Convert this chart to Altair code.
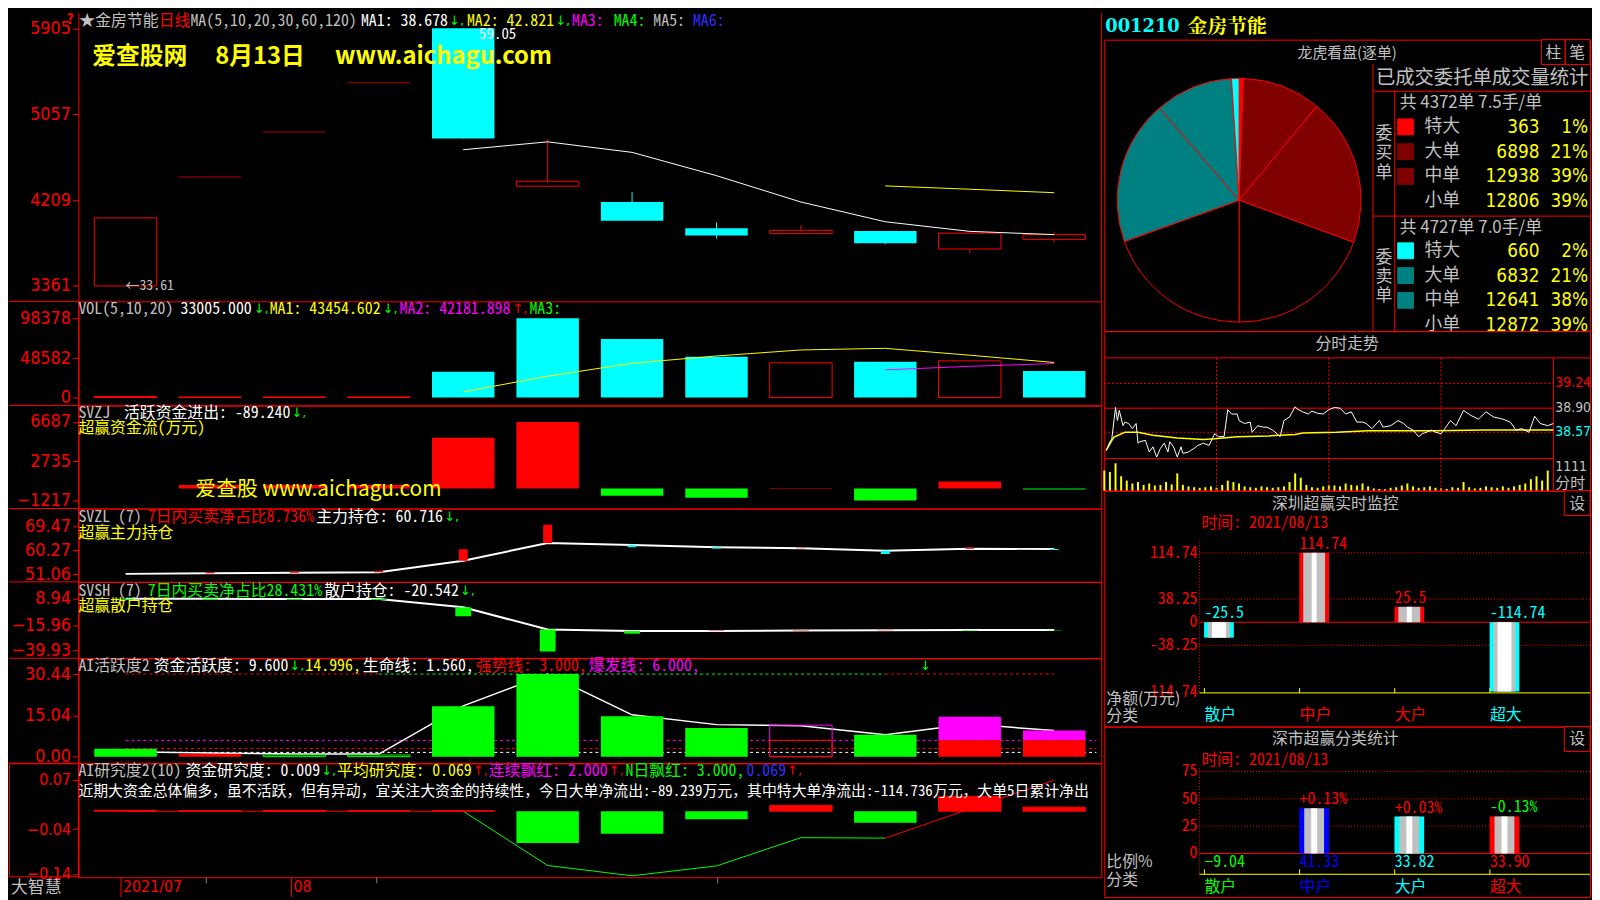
import altair as alt
import pandas as pd

# ---------------- colours / fonts ----------------
RED = "#FF0000"; CYAN = "#00FFFF"; YEL = "#FFFF00"; GRN = "#00FF00"; MAG = "#FF00FF"
WHT = "#FFFFFF"; GRY = "#C0C0C0"; BLU = "#0000FF"; BLU2 = "#3030FF"; DRED = "#800000"
TEAL = "#008080"; BLK = "#000000"; DGRY = "#808080"
FONT_MONO = "Noto Sans Mono CJK SC, Noto Sans CJK SC, monospace"
FONT_CJK = "Noto Sans CJK SC, sans-serif"
FONT_AX = "Liberation Sans Narrow, DejaVu Sans Condensed, Liberation Sans, sans-serif"
FONT_ARW = "DejaVu Sans, sans-serif"
FONT_SERIF = "DejaVu Serif, Liberation Serif, serif"
FONT_SERIF_CJK = "Noto Serif CJK SC, Noto Sans CJK SC, serif"

# ---------------- data ----------------
idx = list(range(12))
opens = [33.61, 44.36, 48.80, 53.68, 59.05, 43.46, 41.90, 39.32, 38.78, 39.04, 37.26, 38.21]
closes = [40.33, 44.36, 48.80, 53.68, 48.16, 43.95, 40.06, 38.59, 39.10, 37.83, 38.82, 38.68]
highs = [40.33, 44.36, 48.80, 53.68, 59.05, 48.13, 42.88, 39.90, 39.61, 39.04, 38.82, 38.91]
lows = [33.61, 44.36, 48.80, 53.68, 48.16, 43.40, 40.06, 38.30, 38.78, 37.73, 36.87, 37.93]
candle_kind = ["up", "flat", "flat", "flat", "down", "up", "down", "down", "up", "down", "up", "up"]
ma1 = [47.06, 47.84, 46.80, 44.50, 41.90, 39.95, 39.00, 38.68]
ma2 = [43.49, 43.16, 42.82]

vol = [1300, 700, 700, 700, 31973, 98378, 72553, 50417, 43040, 44270, 45500, 33005]
vol_kind = ["flat", "flat", "flat", "flat", "down", "down", "down", "down", "up", "down", "up", "down"]
vol_ma1 = [7000, 26400, 42500, 51500, 59000, 61000, 52500, 43455]
vol_ma2 = [34300, 38700, 42182]

zj = [0, 350, 350, 350, 5090, 6687, -720, -920, 60, -1217, 700, -89.24]

zl = [51.2, 51.4, 51.6, 51.8, 56.2, 63.0, 62.2, 61.4, 61.0, 60.0, 60.8, 60.716]
zl_d = [0.0, 0.5, 0.5, 0.5, 4.4, 7.0, -0.8, -0.5, 0.2, -1.2, 0.5, -0.4]

sh = [9.2, 9.1, 9.0, 9.0, 1.0, -20.1, -21.6, -21.6, -21.0, -20.8, -20.6, -20.542]
sh_d = [-1.0, -1.0, -1.0, -1.0, -8.5, -21.0, -2.5, 0.5, 0.4, 0.4, -0.5, -0.4]

act = [2.93, 1.1, 0.6, 0.6, 18.6, 30.44, 14.9, 10.6, 11.6, 8.07, 14.67, 9.6]
act_style = ["g", "r", "gh", "gh", "g", "g", "g", "g", "mrh", "g", "mr", "mr"]
act_line = [1.8, 1.3, 1.0, 0.95, 18.7, 30.44, 15.4, 11.8, 11.4, 8.1, 12.0, 9.6]

yj = [0.002, 0.001, 0.002, 0.001, 0.001, -0.071, -0.050, -0.018, 0.013, -0.026, 0.033, 0.009]
yj_line = [0, 0, 0, 0, 0, -0.121, -0.144, -0.122, -0.059, -0.060, 0.005, 0.069]

buy_labels = ["特大", "大单", "中单", "小单"]
buy_vals = [363, 6898, 12938, 12806]
buy_pct = ["1%", "21%", "39%", "39%"]
sell_vals = [660, 6832, 12641, 12872]
sell_pct = ["2%", "21%", "38%", "39%"]

fs_t = [1, 3, 4, 6, 7, 8, 10, 11, 13, 15, 17, 18, 19, 22, 24, 26, 28, 30, 32, 34,
        35, 37, 39, 41, 42, 45, 48, 50, 53, 56, 59, 61, 64, 66, 68, 71, 72, 75, 78, 79,
        82, 85, 87, 90, 94, 96, 99, 102, 103, 106, 109, 111, 114, 117, 120, 123, 126, 129, 132, 135,
        138, 140, 143, 147, 149, 153, 157, 160, 162, 165, 168, 170, 175, 177, 180, 182, 185, 188, 192, 196,
        200, 204, 208, 213, 217, 220, 223, 227, 230, 233, 237, 240]
fs_p = [38.32, 38.44, 38.48, 38.91, 38.73, 38.87, 38.66, 38.71, 38.69, 38.62,
        38.69, 38.42, 38.44, 38.46, 38.30, 38.37, 38.23, 38.35, 38.42, 38.30,
        38.44, 38.37, 38.23, 38.37, 38.28, 38.30, 38.35, 38.39, 38.42, 38.39,
        38.55, 38.51, 38.51, 38.88, 38.82, 38.82, 38.73, 38.69, 38.71, 38.57,
        38.66, 38.64, 38.64, 38.60, 38.51, 38.73, 38.78, 38.92, 38.89, 38.85,
        38.82, 38.86, 38.83, 38.82, 38.88, 38.91, 38.90, 38.82, 38.85, 38.71,
        38.71, 38.69, 38.62, 38.73, 38.64, 38.66, 38.73, 38.69, 38.64, 38.60,
        38.51, 38.55, 38.60, 38.57, 38.55, 38.62, 38.73, 38.66, 38.87, 38.80,
        38.75, 38.85, 38.78, 38.75, 38.71, 38.60, 38.62, 38.57, 38.79, 38.69,
        38.66, 38.69]
fs_avg_t = [1, 5, 11, 18, 26, 39, 53, 59, 71, 88, 102, 106, 124, 141, 159, 177, 203, 221, 240]
fs_avg = [38.32, 38.50, 38.57, 38.57, 38.53, 38.49, 38.47, 38.48, 38.51, 38.52,
          38.54, 38.56, 38.57, 38.59, 38.59, 38.59, 38.60, 38.60, 38.60]
fs_vol_t = list(range(0, 240, 3))
fs_vol = [700, 650, 950, 500, 350, 250, 300, 200, 250, 180,
          200, 300, 220, 600, 200, 150, 120, 100, 120, 150,
          100, 200, 350, 300, 250, 150, 120, 100, 150, 120,
          100, 120, 150, 300, 600, 450, 200, 120, 100, 150,
          200, 180, 150, 250, 200, 180, 250, 150, 80, 60,
          50, 100, 120, 180, 250, 150, 100, 120, 150, 100,
          80, 60, 120, 100, 300, 120, 80, 100, 150, 120,
          100, 150, 100, 150, 200, 250, 400, 500, 350, 700]

sz_cats = ["散户", "中户", "大户", "超大"]
sz_net = [-25.5, 114.74, 25.5, -114.74]
sz_lab = ["-25.5", "114.74", "25.5", "-114.74"]
sz_col = [CYAN, RED, RED, CYAN]
sz_ticks = [114.74, 38.25, 0, -38.25, -114.74]
sz_tick_lab = ["114.74", "38.25", "0", "-38.25", "-114.74"]

ss_ratio = [-9.04, 41.33, 33.82, 33.90]
ss_chg = ["", "+0.13%", "+0.03%", "-0.13%"]
ss_chg_col = [GRN, RED, RED, GRN]
ss_col = [GRN, BLU, CYAN, RED]
ss_ticks = [75, 50, 25, 0]

# ---------------- helpers ----------------
ONE = pd.DataFrame({"k": [0]})
AX = 70
LW = 1032
RW = 490


def T(s, x, y, color=GRY, size=16, font=FONT_MONO, align="left", weight="normal", **kw):
    return alt.Chart(ONE).mark_text(text=s, color=color, fontSize=size, font=font, align=align,
                                    baseline="middle", fontWeight=weight, **kw).encode(
        x=alt.value(x), y=alt.value(y))


def A(s, x, y, color=GRN):
    """an arrow + comma segment of a header line"""
    return T(s, x, y, color, 13, FONT_ARW)


def R(x, y, x2=None, y2=None, color=RED, dash=None, width=1):
    enc = {"x": alt.value(x), "y": alt.value(y)}
    if x2 is not None:
        enc["x2"] = alt.value(x2)
    if y2 is not None:
        enc["y2"] = alt.value(y2)
    props = {"color": color, "strokeWidth": width}
    if dash:
        props["strokeDash"] = dash
    return alt.Chart(ONE).mark_rule(**props).encode(**enc)


def BOX(x, y, x2, y2, stroke=RED, fill=BLK):
    return alt.Chart(ONE).mark_rect(fill=fill, stroke=stroke, strokeWidth=1).encode(
        x=alt.value(x), x2=alt.value(x2), y=alt.value(y), y2=alt.value(y2))


XS_L = alt.Scale(domain=[-0.5, 11.5], nice=False, zero=False)


def XI(f="i"):
    return alt.X(f"{f}:Q", scale=XS_L, axis=None)


def ymaker(domain, vals, fmt=None, expr=None, lsize=18):
    sc = alt.Scale(domain=domain, nice=False, zero=False)
    kw = dict(values=vals, title=None, grid=False, domainColor=RED, tickColor=RED, labelColor=RED,
              labelFont=FONT_AX, labelFontSize=lsize, tickSize=6, labelPadding=2,
              minExtent=AX, maxExtent=AX, labelFlush=False, labelOverlap=False)
    if fmt:
        kw["format"] = fmt
    if expr:
        kw["labelExpr"] = expr
    ax = alt.Axis(**kw)

    def Y(f):
        return alt.Y(f"{f}:Q", scale=sc, axis=ax)
    return Y


def sep():
    return R(-AX, 0, x2=0)


# ---------------- main candle panel ----------------
Ym = ymaker([32.09, 60.57], [33.61, 42.09, 50.57, 59.05],
            expr="replace(format(datum.value, '.2f'), '.', '')")
cdf = pd.DataFrame({"i": idx, "o": opens, "c": closes, "h": highs, "l": lows, "k": candle_kind})
cb = alt.Chart(cdf)
main_layers = [
    cb.transform_filter("datum.k == 'up'").mark_rule(color=RED).encode(x=XI(), y=Ym("l"), y2="h:Q"),
    cb.transform_filter("datum.k == 'down'").mark_rule(color=CYAN).encode(x=XI(), y=Ym("l"), y2="h:Q"),
    cb.transform_filter("datum.k == 'up'").mark_bar(size=63, fill=BLK, stroke=RED, strokeWidth=1).encode(
        x=XI(), y=Ym("o"), y2="c:Q"),
    cb.transform_filter("datum.k == 'down'").mark_bar(size=63, color=CYAN).encode(x=XI(), y=Ym("o"), y2="c:Q"),
    cb.transform_filter("datum.k == 'flat'").mark_tick(orient="horizontal", size=63, thickness=1, color=RED).encode(
        x=XI(), y=Ym("c")),
    alt.Chart(pd.DataFrame({"i": idx[4:], "v": ma1})).mark_line(color=WHT, strokeWidth=1).encode(x=XI(), y=Ym("v")),
    alt.Chart(pd.DataFrame({"i": idx[9:], "v": ma2})).mark_line(color=YEL, strokeWidth=1).encode(x=XI(), y=Ym("v")),
    alt.Chart(pd.DataFrame({"i": [0], "v": [lows[0]]})).mark_text(
        text="←33.61", align="left", baseline="middle", color=GRY, font=FONT_MONO, fontSize=14).encode(
        x=XI(), y=Ym("v")),
    alt.Chart(pd.DataFrame({"i": [4], "v": [highs[4]]})).mark_text(
        text="59.05", align="left", baseline="middle", color=WHT, font=FONT_MONO, fontSize=15, dx=16, dy=6).encode(
        x=XI(), y=Ym("v")),
    R(LW, 0, y2=291),
    T("?", -12, 7, RED, 14, FONT_CJK, weight="bold"),
    T("★金房节能", 1, 8, GRY), T("日线", 81, 8, RED), T("MA(5,10,20,30,60,120)", 113, 8, GRY),
    T("MA1: 38.678", 285, 8, WHT), A("↓,", 374, 8),
    T("MA2: 42.821", 392, 8, YEL), A("↓,", 481, 8),
    T("MA3:", 498, 8, MAG), T("MA4:", 540, 8, GRN), T("MA5:", 580, 8, GRY), T("MA6:", 620, 8, BLU2),
    T("爱查股网", 14, 45, YEL, 24, FONT_CJK, weight="bold"),
    T("8月13日", 138, 45, YEL, 24, FONT_CJK, weight="bold"),
    T("www.aichagu.com", 259, 45, YEL, 24, FONT_CJK, weight="bold"),
]
main = alt.layer(*main_layers).properties(width=LW, height=291,
                                          view=alt.ViewBackground(stroke="transparent"))

# ---------------- VOL panel ----------------
Yv = ymaker([-9838, 119283], [0, 48582, 98378], fmt="d")
vdf = pd.DataFrame({"i": idx, "v": vol, "z": 0, "k": vol_kind})
vb = alt.Chart(vdf)
vol_layers = [
    vb.transform_filter("datum.k == 'flat'").mark_bar(size=63, color=RED, stroke=RED, strokeWidth=1).encode(
        x=XI(), y=Yv("v"), y2="z:Q"),
    vb.transform_filter("datum.k == 'up'").mark_bar(size=63, fill=BLK, stroke=RED, strokeWidth=1).encode(
        x=XI(), y=Yv("v"), y2="z:Q"),
    vb.transform_filter("datum.k == 'down'").mark_bar(size=63, color=CYAN).encode(x=XI(), y=Yv("v"), y2="z:Q"),
    alt.Chart(pd.DataFrame({"i": idx[4:], "v": vol_ma1})).mark_line(color=YEL, strokeWidth=1).encode(x=XI(), y=Yv("v")),
    alt.Chart(pd.DataFrame({"i": idx[9:], "v": vol_ma2})).mark_line(color=MAG, strokeWidth=1).encode(x=XI(), y=Yv("v")),
    T("VOL(5,10,20)", 0, 8, GRY),
    T("33005.000", 103, 8, WHT), A("↓,", 177, 8),
    T("MA1: 43454.602", 193, 8, YEL), A("↓,", 307, 8),
    T("MA2: 42181.898", 324, 8, MAG), A("↑,", 438, 8, RED),
    T("MA3:", 455, 8, GRN),
    sep(),
]
volp = alt.layer(*vol_layers).properties(width=LW, height=105)

# ---------------- SVZJ panel ----------------
Yz = ymaker([-2014, 8351], [-1217, 2735, 6687], fmt="d")
zdf = pd.DataFrame({"i": idx, "v": zj, "z": 0})
zb = alt.Chart(zdf)
zj_layers = [
    zb.transform_filter("datum.v >= 0").mark_bar(size=63, color=RED).encode(x=XI(), y=Yz("v"), y2="z:Q"),
    zb.transform_filter("datum.v < 0").mark_bar(size=63, color=GRN).encode(x=XI(), y=Yz("v"), y2="z:Q"),
    T("SVZJ", 0, 8, GRY), T("活跃资金进出: -89.240", 46, 8, WHT), A("↓,", 215, 8),
    T("超赢资金流(万元)", 0, 23, YEL),
    T("爱查股 www.aichagu.com", 118, 85, YEL, 21, FONT_CJK),
    sep(),
]
zjp = alt.layer(*zj_layers).properties(width=LW, height=104)

# ---------------- SVZL panel ----------------
Yl = ymaker([48.14, 76.18], [51.06, 60.27, 69.47], fmt=".2f")
ldf = pd.DataFrame({"i": idx, "v": zl, "e": [a + b for a, b in zip(zl, zl_d)], "d": zl_d})
lb = alt.Chart(ldf)
zl_layers = [
    lb.mark_line(color=WHT, strokeWidth=2).encode(x=XI(), y=Yl("v")),
    lb.transform_filter("datum.d > 0").mark_bar(size=9, color=RED).encode(x=XI(), y=Yl("v"), y2="e:Q"),
    lb.transform_filter("datum.d < 0").mark_bar(size=9, color=CYAN).encode(x=XI(), y=Yl("v"), y2="e:Q"),
    T("SVZL (7)", 0, 9, GRY), T("7日内买卖净占比8.736%", 70, 9, RED),
    T("主力持仓: 60.716", 240, 9, WHT), A("↓,", 369, 9),
    T("超赢主力持仓", 0, 25, YEL),
    sep(),
]
zlp = alt.layer(*zl_layers).properties(width=LW, height=74)

# ---------------- SVSH panel ----------------
Ys = ymaker([-47.49, 25.29], [-39.93, -15.96, 8.94], fmt=".2f")
sdf = pd.DataFrame({"i": idx, "v": sh, "e": [a + b for a, b in zip(sh, sh_d)], "d": sh_d})
sb = alt.Chart(sdf)
sh_layers = [
    sb.mark_line(color=WHT, strokeWidth=2).encode(x=XI(), y=Ys("v")),
    sb.transform_filter("datum.d > 0").mark_bar(size=16, color=RED).encode(x=XI(), y=Ys("v"), y2="e:Q"),
    sb.transform_filter("datum.d < 0").mark_bar(size=16, color=GRN).encode(x=XI(), y=Ys("v"), y2="e:Q"),
    T("SVSH (7)", 0, 9, GRY), T("7日内买卖净占比28.431%", 70, 9, GRN),
    T("散户持仓: -20.542", 248, 9, WHT), A("↓,", 385, 9),
    T("超赢散户持仓", 0, 24, YEL),
    sep(),
]
shp = alt.layer(*sh_layers).properties(width=LW, height=77)

# ---------------- AI活跃度 panel ----------------
Ya = ymaker([-2.45, 36.29], [0, 15.04, 30.44], fmt=".2f")
adf = pd.DataFrame({"i": idx, "v": act, "s": act_style, "z": 0, "six": 6, "w": act_line})
ab = alt.Chart(adf)
lv = pd.DataFrame({"a": [0, 0, 0, 0, 3, 9], "b": [11.5, 11.5, 11.5, 3, 9, 11],
                   "v": [6, 3, 1.56, 30.44, 30.44, 30.44],
                   "col": [MAG, RED, WHT, RED, GRN, RED]})
act_layers = [
    alt.Chart(lv).mark_rule(strokeDash=[3, 3], strokeWidth=1).encode(
        x=XI("a"), x2="b:Q", y=Ya("v"), color=alt.Color("col:N", scale=None)),
    ab.mark_line(color=WHT, strokeWidth=1.5).encode(x=XI(), y=Ya("w")),
    ab.transform_filter("datum.s == 'g'").mark_bar(size=63, color=GRN).encode(x=XI(), y=Ya("v"), y2="z:Q"),
    ab.transform_filter("datum.s == 'r'").mark_bar(size=63, color=RED).encode(x=XI(), y=Ya("v"), y2="z:Q"),
    ab.transform_filter("datum.s == 'gh'").mark_bar(size=63, fill="transparent", stroke=GRN, strokeWidth=1).encode(
        x=XI(), y=Ya("v"), y2="z:Q"),
    ab.transform_filter("datum.s == 'mr'").mark_bar(size=63, color=MAG).encode(x=XI(), y=Ya("v"), y2="six:Q"),
    ab.transform_filter("datum.s == 'mr'").mark_bar(size=63, color=RED).encode(x=XI(), y=Ya("six"), y2="z:Q"),
    ab.transform_filter("datum.s == 'mrh'").mark_bar(size=63, fill="transparent", stroke=MAG, strokeWidth=1).encode(
        x=XI(), y=Ya("v"), y2="z:Q"),
    ab.transform_filter("datum.s == 'mrh'").mark_bar(size=63, fill="transparent", stroke=RED, strokeWidth=1).encode(
        x=XI(), y=Ya("six"), y2="z:Q"),
    T("AI活跃度2", 0, 8, GRY), T("资金活跃度: 9.600", 76, 8, WHT), A("↓,", 213, 8),
    T("14.996,", 229, 8, YEL), T("生命线: 1.560,", 287, 8, WHT),
    T("强势线: 3.000,", 401, 8, RED), T("爆发线: 6.000,", 515, 8, MAG),
    A("↓", 849, 8),
    sep(),
]
actp = alt.layer(*act_layers).properties(width=LW, height=106)

# ---------------- AI研究度 panel ----------------
Yj = ymaker([-0.1473, 0.1069], [-0.14, -0.04, 0.07], fmt=".2f", lsize=16)
jdf = pd.DataFrame({"i": idx, "v": yj, "z": 0})
jb = alt.Chart(jdf)
jl = pd.DataFrame({"i": idx, "v": yj_line})
yj_layers = [
    alt.Chart(jl).transform_filter("datum.i <= 4").mark_line(color=RED, strokeWidth=1).encode(x=XI(), y=Yj("v")),
    alt.Chart(jl).transform_filter("datum.i >= 4 && datum.i <= 9").mark_line(color=GRN, strokeWidth=1).encode(
        x=XI(), y=Yj("v")),
    alt.Chart(jl).transform_filter("datum.i >= 9").mark_line(color=RED, strokeWidth=1).encode(x=XI(), y=Yj("v")),
    jb.transform_filter("datum.v >= 0").mark_bar(size=63, color=RED, stroke=RED, strokeWidth=1).encode(
        x=XI(), y=Yj("v"), y2="z:Q"),
    jb.transform_filter("datum.v < 0").mark_bar(size=63, color=GRN).encode(x=XI(), y=Yj("v"), y2="z:Q"),
    BOX(-69.5, 0.5, 0, 114.5, RED, "transparent"),
    T("AI研究度2(10)", 0, 8, GRY), T("资金研究度: 0.009", 108, 8, WHT), A("↓,", 245, 8),
    T("平均研究度: 0.069", 261, 8, YEL), A("↑,", 398, 8, RED),
    T("连续飘红: 2.000", 414, 8, MAG), A("↑,", 535, 8, RED),
    T("N日飘红: 3.000,", 552, 8, GRN), T("0.069", 674, 8, BLU2), A("↑,", 715, 8, RED),
    T("近期大资金总体偏多，虽不活跃，但有异动，宜关注大资金的持续性，今日大单净流出:-89.239万元，"
      "其中特大单净流出:-114.736万元，大单5日累计净出", 0, 28, WHT, 15, limit=1030),
    sep(),
]
yjp = alt.layer(*yj_layers).properties(width=LW, height=115)

# ---------------- date strip ----------------
strip_y = alt.Y("y0:Q", scale=alt.Scale(domain=[0, 1]),
                axis=alt.Axis(labels=False, ticks=False, domain=False, grid=False, title=None,
                              minExtent=AX, maxExtent=AX))
sdates = pd.DataFrame({"i": [0, 2], "y0": [0, 0], "y1": [1, 1]})
sgray = pd.DataFrame({"i": [1, 3, 7], "y0": [0.7, 0.7, 0.7], "y1": [1, 1, 1]})
strip_layers = [
    alt.Chart(sgray).mark_rule(color=DGRY).encode(x=XI(), y=strip_y, y2="y1:Q"),
    alt.Chart(sdates).mark_rule(color=RED).encode(x=XI(), y=strip_y, y2="y1:Q"),
    alt.Chart(pd.DataFrame({"i": [0], "y0": [0.5]})).mark_text(
        text="2021/07", align="left", baseline="middle", color=RED, font=FONT_AX, fontSize=16, dx=2).encode(
        x=XI(), y=strip_y),
    alt.Chart(pd.DataFrame({"i": [2], "y0": [0.5]})).mark_text(
        text="08", align="left", baseline="middle", color=RED, font=FONT_AX, fontSize=16, dx=2).encode(
        x=XI(), y=strip_y),
    T("大智慧", -68, 11, GRY, 17, FONT_CJK),
]
strip = alt.layer(*strip_layers).properties(width=LW, height=20,
                                            view=alt.ViewBackground(stroke="transparent"))

left = alt.vconcat(main, volp, zjp, zlp, shp, actp, yjp, strip, spacing=0, bounds="flush")

# ---------------- right: header ----------------
hdr = alt.layer(
    T("001210", 1, 14, CYAN, 18, FONT_SERIF, weight="bold"),
    T("金房节能", 84, 14, YEL, 20, FONT_SERIF_CJK, weight="bold"),
).properties(width=RW, height=27, view=alt.ViewBackground(stroke="transparent"))

# ---------------- right: pie + table ----------------
pie_keys = ["买特大", "买大单", "买中单", "买小单", "卖小单", "卖中单", "卖大单", "卖特大"]
pie_vals = buy_vals + sell_vals[::-1]
pie_cols = [RED, DRED, DRED, BLK, BLK, TEAL, TEAL, CYAN]
pie_df = pd.DataFrame({"k": pie_keys, "v": pie_vals, "o": list(range(8))})
pie_layers = [
    alt.Chart(pie_df).mark_arc(radius=123, stroke=RED, strokeWidth=1).encode(
        theta=alt.Theta("v:Q", stack=True), order=alt.Order("o:Q"),
        color=alt.Color("k:N", scale=alt.Scale(domain=pie_keys, range=pie_cols), legend=None),
        x=alt.value(136), y=alt.value(162)),
    T("龙虎看盘(逐单)", 245, 13, GRY, 15, FONT_CJK, align="center"),
    BOX(441, 0, 465, 25), BOX(465, 0, 490, 25),
    T("柱", 453, 13, GRY, 16, FONT_CJK, align="center"), T("笔", 477, 13, GRY, 16, FONT_CJK, align="center"),
    R(271, 25, y2=294), R(271, 52, x2=490), R(293, 52, y2=294), R(271, 178, x2=490),
    T("已成交委托单成交量统计", 274, 39, GRY, 19.5, FONT_CJK, limit=215),
    T("共 4372单 7.5手/单", 298, 64, GRY, 17, FONT_CJK),
    T("共 4727单 7.0手/单", 298, 190, GRY, 17, FONT_CJK),
]
for ch, yy in zip("委买单", [95, 114, 135]):
    pie_layers.append(T(ch, 282, yy, GRY, 17, FONT_CJK, align="center"))
for ch, yy in zip("委卖单", [220, 239, 259]):
    pie_layers.append(T(ch, 282, yy, GRY, 17, FONT_CJK, align="center"))
buy_sw = [RED, DRED, DRED, None]
sell_sw = [CYAN, TEAL, TEAL, None]
for rows, vals, pcts, sws in [([88, 113, 138, 163], buy_vals, buy_pct, buy_sw),
                              ([213, 238, 263, 288], sell_vals, sell_pct, sell_sw)]:
    for yy, lab, v, p, sw in zip(rows, buy_labels, vals, pcts, sws):
        if sw:
            pie_layers.append(BOX(296, yy - 8, 312, yy + 8, stroke=sw, fill=sw))
        pie_layers.append(T(lab, 323, yy, GRY, 18, FONT_CJK))
        pie_layers.append(T(str(v), 439, yy, YEL, 19, FONT_AX, align="right"))
        pie_layers.append(T(p, 488, yy, YEL, 19, FONT_AX, align="right"))
piep = alt.layer(*pie_layers).properties(width=RW, height=294)

# ---------------- right: intraday ----------------
XS_F = alt.Scale(domain=[0, 259.6], nice=False, zero=False)
YS_P = alt.Scale(domain=[37.769, 39.957], nice=False, zero=False)
YS_V = alt.Scale(domain=[0, 5538], nice=False, zero=False)
XF = lambda f: alt.X(f"{f}:Q", scale=XS_F, axis=None)
YP = lambda f: alt.Y(f"{f}:Q", scale=YS_P, axis=None)
fs_refs = pd.DataFrame({"a": [0, 0, 0], "b": [240, 240, 240], "p": [39.24, 38.90, 38.57],
                        "dash": ["d", "s", "d"], "col": [RED, GRY, CYAN]})
fs_layers = [
    alt.Chart(pd.DataFrame({"m": fs_vol_t, "v": fs_vol, "z": 0})).mark_rule(color=YEL, strokeWidth=2).encode(
        x=XF("m"), y=alt.Y("v:Q", scale=YS_V, axis=None), y2="z:Q"),
    alt.Chart(pd.DataFrame({"m": [60, 120, 180]})).mark_rule(color=RED, strokeDash=[2, 2]).encode(
        x=XF("m"), y=alt.value(27), y2=alt.value(161)),
    alt.Chart(fs_refs).transform_filter("datum.dash == 'd'").mark_rule(color=RED, strokeDash=[2, 2]).encode(
        x=XF("a"), x2="b:Q", y=YP("p")),
    alt.Chart(fs_refs).transform_filter("datum.dash == 's'").mark_rule(color=RED).encode(
        x=XF("a"), x2="b:Q", y=YP("p")),
    alt.Chart(pd.DataFrame({"m": [240]})).mark_rule(color=RED).encode(x=XF("m"), y=alt.value(27), y2=alt.value(161)),
    R(0, 128.7, x2=453), R(0, 27, x2=490),
    alt.Chart(pd.DataFrame({"m": fs_avg_t, "p": fs_avg})).mark_line(color=YEL, strokeWidth=1.5).encode(
        x=XF("m"), y=YP("p")),
    alt.Chart(pd.DataFrame({"m": fs_t, "p": fs_p})).mark_line(color=WHT, strokeWidth=1).encode(
        x=XF("m"), y=YP("p")),
    alt.Chart(fs_refs).mark_text(align="left", baseline="middle", font=FONT_AX, fontSize=14).encode(
        x=alt.value(455), y=YP("p"), text=alt.Text("p:Q", format=".2f"), color=alt.Color("col:N", scale=None)),
    T("分时走势", 245, 13, GRY, 16, FONT_CJK, align="center"),
    T("1111", 455, 137, GRY, 14, FONT_AX),
    T("分时", 455, 153, GRY, 15, FONT_CJK),
]
fsp = alt.layer(*fs_layers).resolve_scale(y="independent").properties(width=RW, height=161)

# ---------------- right: 深圳超赢实时监控 ----------------
XS_R = alt.Scale(domain=[-1, 4], nice=False, zero=False)
XR = lambda f: alt.X(f"{f}:Q", scale=XS_R, axis=None)
YS_SZ = alt.Scale(domain=[-172.6, 217.5], nice=False, zero=False)
YZ = lambda f: alt.Y(f"{f}:Q", scale=YS_SZ, axis=None)
szdf = pd.DataFrame({"i": [0, 1, 2, 3], "c": [j + 0.153 for j in range(4)], "v": sz_net, "z": 0,
                     "lab": sz_lab, "col": sz_col, "ly": [max(v, 0) for v in sz_net], "cat": sz_cats})
szb = alt.Chart(szdf)
sz_layers = [
    alt.Chart(pd.DataFrame({"g": [114.74, 38.25, -38.25]})).mark_rule(color=RED, strokeDash=[1, 2]).encode(
        x=alt.value(96), x2=alt.value(490), y=YZ("g")),
    alt.Chart(pd.DataFrame({"g": [0]})).mark_rule(color=RED).encode(x=alt.value(96), x2=alt.value(490), y=YZ("g")),
    R(96, 52, y2=204, dash=[1, 2]),
    szb.mark_bar(size=30).encode(x=XR("c"), y=YZ("v"), y2="z:Q", color=alt.Color("col:N", scale=None)),
    szb.mark_bar(size=22, color=GRY).encode(x=XR("c"), y=YZ("v"), y2="z:Q"),
    szb.transform_filter("datum.v > 0").mark_bar(size=5, color=WHT).encode(x=XR("c"), y=YZ("v"), y2="z:Q"),
    szb.transform_filter("datum.v < 0").mark_bar(size=14, color=WHT).encode(x=XR("c"), y=YZ("v"), y2="z:Q"),
    szb.mark_text(align="left", baseline="middle", font=FONT_MONO, fontSize=16, dy=-9).encode(
        x=XR("i"), y=YZ("ly"), text="lab:N", color=alt.Color("col:N", scale=None)),
    szb.mark_text(align="left", baseline="middle", font=FONT_CJK, fontSize=16).encode(
        x=XR("i"), y=alt.value(226), text="cat:N", color=alt.Color("col:N", scale=None)),
    R(96, 204, x2=490, color=YEL),
    szb.mark_rule(color=YEL).encode(x=XR("i"), y=alt.value(199), y2=alt.value(204)),
    alt.Chart(pd.DataFrame({"g": sz_ticks, "t": sz_tick_lab})).mark_text(
        align="right", baseline="middle", font=FONT_MONO, fontSize=16, color=RED).encode(
        x=alt.value(94), y=YZ("g"), text="t:N"),
    T("深圳超赢实时监控", 233, 13, GRY, 16, FONT_CJK, align="center"),
    BOX(464, 0, 490, 25), T("设", 477, 13, GRY, 16, FONT_CJK, align="center"),
    T("时间: 2021/08/13", 98, 33, RED, 16),
    T("净额(万元)", 2, 210, GRY, 16, FONT_CJK), T("分类", 2, 227, GRY, 16, FONT_CJK),
]
szp = alt.layer(*sz_layers).properties(width=RW, height=238)

# ---------------- right: 深市超赢分类统计 ----------------
YS_SS = alt.Scale(domain=[-39.9, 116.1], nice=False, zero=False)
YSS = lambda f: alt.Y(f"{f}:Q", scale=YS_SS, axis=None)
ssdf = pd.DataFrame({"i": [0, 1, 2, 3], "c": [j + 0.153 for j in range(4)], "v": ss_ratio, "z": 0,
                     "col": ss_col, "chg": ss_chg, "chgcol": ss_chg_col, "cat": sz_cats})
ssb = alt.Chart(ssdf)
ss_pos = ssb.transform_filter("datum.v > 0")
ss_layers = [
    alt.Chart(pd.DataFrame({"g": [75, 50, 25]})).mark_rule(color=RED, strokeDash=[1, 2]).encode(
        x=alt.value(96), x2=alt.value(490), y=YSS("g")),
    alt.Chart(pd.DataFrame({"g": [0]})).mark_rule(color=RED).encode(x=alt.value(96), x2=alt.value(490), y=YSS("g")),
    R(96, 42, y2=149, dash=[1, 2]),
    ss_pos.mark_bar(size=30).encode(x=XR("c"), y=YSS("v"), y2="z:Q", color=alt.Color("col:N", scale=None)),
    ss_pos.mark_bar(size=20, color=GRY).encode(x=XR("c"), y=YSS("v"), y2="z:Q"),
    ss_pos.mark_bar(size=6, color=WHT).encode(x=XR("c"), y=YSS("v"), y2="z:Q"),
    ss_pos.mark_text(align="left", baseline="middle", font=FONT_MONO, fontSize=16, dy=-9).encode(
        x=XR("i"), y=YSS("v"), text="chg:N", color=alt.Color("chgcol:N", scale=None)),
    ssb.mark_text(align="left", baseline="middle", font=FONT_MONO, fontSize=16).encode(
        x=XR("i"), y=alt.value(137), text=alt.Text("v:Q", format=".2f"), color=alt.Color("col:N", scale=None)),
    ssb.mark_text(align="left", baseline="middle", font=FONT_CJK, fontSize=16).encode(
        x=XR("i"), y=alt.value(162), text="cat:N", color=alt.Color("col:N", scale=None)),
    R(96, 149, x2=490, color=YEL),
    ssb.mark_rule(color=YEL).encode(x=XR("i"), y=alt.value(149), y2=alt.value(144)),
    alt.Chart(pd.DataFrame({"g": ss_ticks})).mark_text(
        align="right", baseline="middle", font=FONT_MONO, fontSize=16, color=RED).encode(
        x=alt.value(94), y=YSS("g"), text="g:Q"),
    T("深市超赢分类统计", 233, 13, GRY, 16, FONT_CJK, align="center"),
    BOX(464, 0, 490, 25), T("设", 477, 13, GRY, 16, FONT_CJK, align="center"),
    T("时间: 2021/08/13", 98, 34, RED, 16),
    T("比例%", 2, 137, GRY, 16, FONT_CJK), T("分类", 2, 155, GRY, 16, FONT_CJK),
]
ssp = alt.layer(*ss_layers).properties(width=RW, height=172)

right = alt.vconcat(hdr, piep, fsp, szp, ssp, spacing=0, bounds="flush")

chart = alt.hconcat(left, right, spacing=0, background=BLK, padding=0).configure_view(
    stroke=RED, strokeWidth=1)
chart.save("out.html", embed_options={"renderer": "svg", "actions": False})
